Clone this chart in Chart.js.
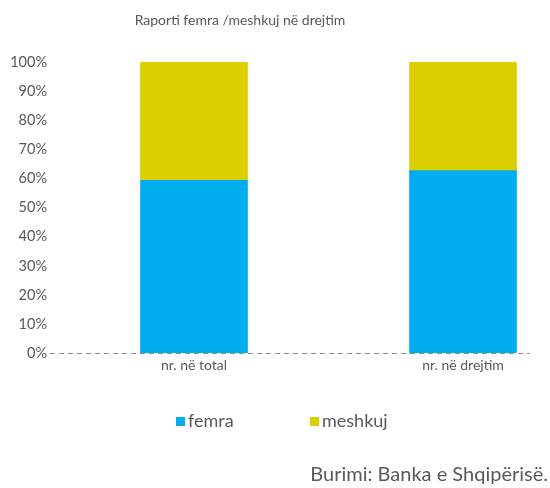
<!DOCTYPE html>
<html>
<head>
<meta charset="utf-8">
<script src="https://cdn.jsdelivr.net/npm/chart.js@4.4.1/dist/chart.umd.min.js"></script>
<style>
  html, body { margin:0; padding:0; background:#fff; }
  #wrap { position:relative; width:550px; height:488px; font-family:Lato, sans-serif; color:#595959; }
  #title { position:absolute; left:0; width:480px; top:11px; text-align:center; font-size:14px; }
  #source { position:absolute; right:2px; top:461px; font-size:20px; }
  #legend { position:absolute; top:409px; left:0; width:550px; height:24px; font-size:18px; }
  .li { position:absolute; top:0; white-space:nowrap; }
  .sw { display:inline-block; width:9px; height:9px; margin-right:3px; vertical-align:1px; }
</style>
</head>
<body>
<div id="wrap">
  <canvas id="c" width="550" height="488"></canvas>
  <div id="title">Raporti femra /meshkuj në drejtim</div>
  <div id="legend"></div>
  <div id="source">Burimi: Banka e Shqipërisë.</div>
</div>
<script>
const categories = ['nr. në total', 'nr. në drejtim'];
const seriesNames = ['femra', 'meshkuj'];
const seriesColors = ['#00adef', '#dccf00'];
const femra = [59.4, 62.7];
const meshkuj = [40.6, 37.3];
const yTicks = [0,10,20,30,40,50,60,70,80,90,100];

const toPts = arr => arr.map((v, i) => ({x: i, y: v}));
const grey = '#595959';

// HTML legend
const legendX = [176, 310];
const lg = document.getElementById('legend');
seriesNames.forEach((n, i) => {
  const d = document.createElement('div');
  d.className = 'li';
  d.style.left = legendX[i] + 'px';
  const s = document.createElement('span');
  s.className = 'sw';
  s.style.background = seriesColors[i];
  d.appendChild(s);
  d.appendChild(document.createTextNode(n));
  lg.appendChild(d);
});

new Chart(document.getElementById('c'), {
  type: 'bar',
  data: {
    datasets: [
      { label: seriesNames[0], data: toPts(femra), backgroundColor: seriesColors[0], barThickness: 107 },
      { label: seriesNames[1], data: toPts(meshkuj), backgroundColor: seriesColors[1], barThickness: 107 }
    ]
  },
  options: {
    responsive: false,
    animation: false,
    layout: { padding: { top: 62, right: 20, left: 0, bottom: 110 } },
    plugins: {
      title: { display: false },
      tooltip: { enabled: false },
      legend: { display: false }
    },
    scales: {
      x: {
        type: 'linear', stacked: true, min: -0.5353, max: 1.249, offset: false,
        afterBuildTicks: s => { s.ticks = categories.map((c, i) => ({value: i})); },
        ticks: { callback: (v) => categories[v] ?? '', font: { family: 'Lato', size: 14 }, color: grey, padding: 4, maxRotation: 0, autoSkip: false },
        grid: { display: false, drawTicks: false },
        border: { display: false }
      },
      y: {
        stacked: true, min: 0, max: 100,
        afterBuildTicks: s => { s.ticks = yTicks.map(v => ({value: v})); },
        afterFit: s => { s.width = 50; },
        ticks: { callback: v => v + '%', font: { family: 'Lato', size: 14.5 }, color: grey, padding: 3 },
        grid: {
          drawTicks: false,
          color: c => (c.tick && c.tick.value === 0) ? '#8c8c8c' : 'transparent',
          lineWidth: 1
        },
        border: { display: false, dash: [5, 4] }
      }
    }
  }
});
</script>
</body>
</html>
